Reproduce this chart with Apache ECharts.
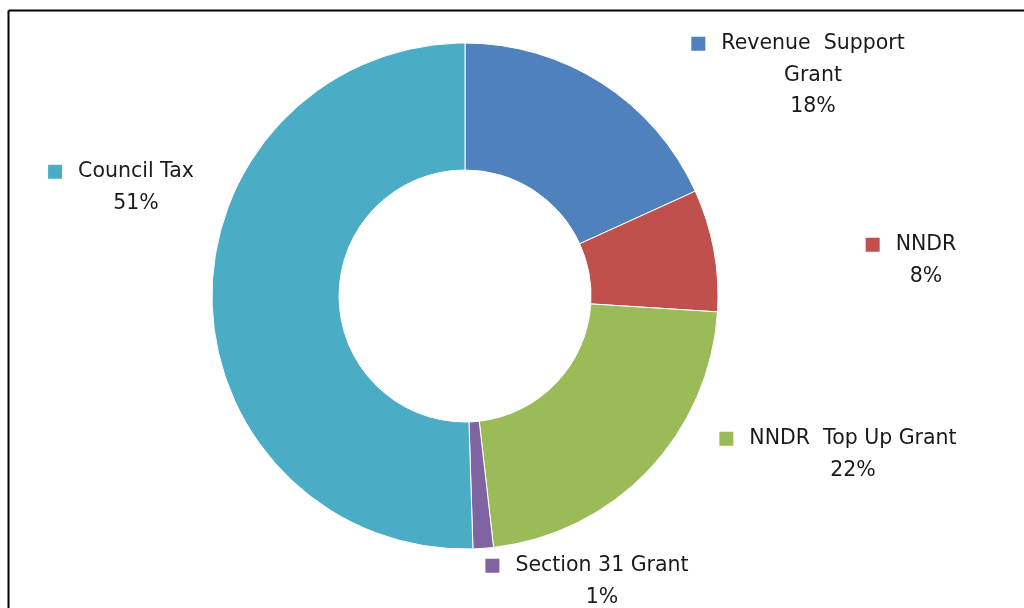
<!DOCTYPE html>
<html>
<head>
<meta charset="utf-8">
<script src="https://cdn.jsdelivr.net/npm/echarts@6/dist/echarts.min.js"></script>
<style>
  html, body { margin: 0; padding: 0; background: #fff; }
  #chart { width: 1024px; height: 608px; }
</style>
</head>
<body>
<div id="chart"></div>
<script>
// funding sources (share of total, %)
var categories = ['Revenue Support Grant', 'NNDR', 'NNDR Top Up Grant', 'Section 31 Grant', 'Council Tax'];
var shares = [18.2, 7.8, 22.2, 1.3, 50.5];
// how each label is broken into lines
var labelLines = [['Revenue  Support', 'Grant'], ['NNDR'], ['NNDR  Top Up Grant'], ['Section 31 Grant'], ['Council Tax']];
var sliceColors = ['#4F81BD', '#C0504D', '#9BBB59', '#8064A2', '#4BACC6'];

// label anchor: centre x of the block, top y
var labelPos = [[798, 28], [911, 229], [838, 423], [587, 550], [121, 156]];

var chart = echarts.init(document.getElementById('chart'));

var rich = {
  t: { fontFamily: 'DejaVu Sans', fontSize: 20.5, color: '#1a1a1a', lineHeight: 31.5 },
  pad: { width: 30, height: 14, lineHeight: 31.5 },
  gap: { width: 16, lineHeight: 31.5 }
};
sliceColors.forEach(function (c, i) {
  rich['sq' + i] = { backgroundColor: c, width: 14, height: 14, lineHeight: 31.5 };
});

var option = {
  animation: false,
  color: sliceColors,
  graphic: [
    { type: 'line', shape: { x1: 8.5, y1: 10.5, x2: 1024, y2: 10.5 }, style: { stroke: '#000', lineWidth: 2 } },
    { type: 'line', shape: { x1: 8.5, y1: 10.5, x2: 8.5, y2: 608 }, style: { stroke: '#000', lineWidth: 2 } }
  ],
  series: [{
    type: 'pie',
    center: [465, 296],
    radius: [126, 253],
    startAngle: 90,
    clockwise: true,
    avoidLabelOverlap: false,
    itemStyle: { borderColor: '#fff', borderWidth: 1 },
    labelLine: { show: false },
    label: {
      show: true,
      position: 'outside',
      align: 'center',
      rich: rich,
      formatter: function (p) {
        var lines = labelLines[p.dataIndex];
        var out = ['{sq' + p.dataIndex + '|}{gap|}{t|' + lines[0] + '}'];
        for (var k = 1; k < lines.length; k++) out.push('{pad|}{t|' + lines[k] + '}');
        out.push('{pad|}{t|' + Math.round(p.value) + '%}');
        return out.join('\n');
      }
    },
    labelLayout: function (params) {
      var pos = labelPos[params.dataIndex];
      return { x: pos[0], y: pos[1], align: 'center', verticalAlign: 'top' };
    },
    data: categories.map(function (name, i) {
      return { name: name, value: shares[i] };
    })
  }]
};

chart.setOption(option);
</script>
</body>
</html>
